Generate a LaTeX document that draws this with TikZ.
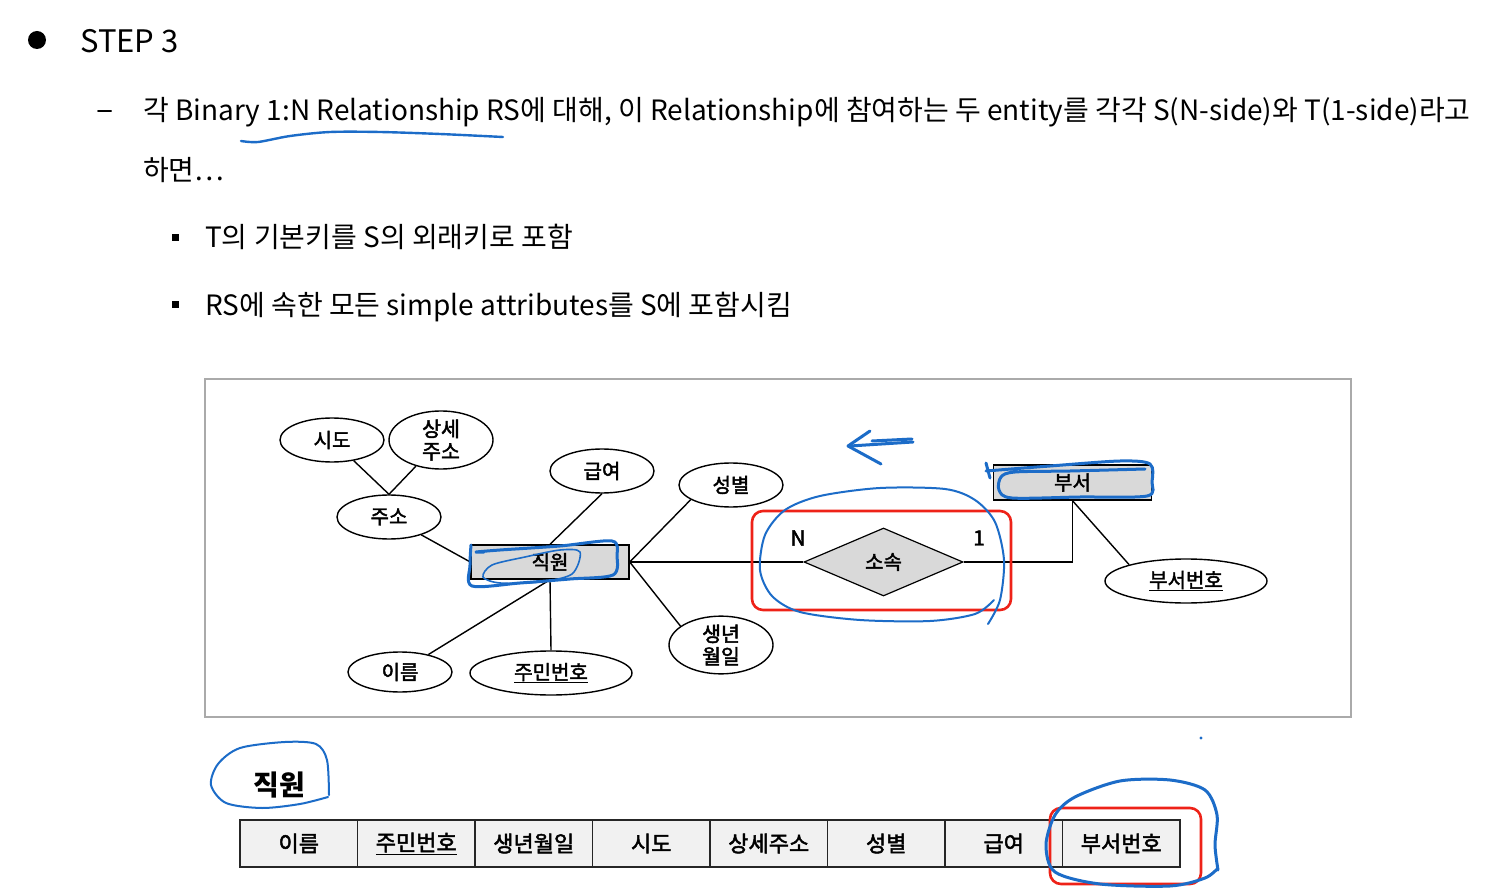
\documentclass[tikz,border=0pt]{standalone}
\usepackage{fontspec}
\setmainfont{Noto Sans CJK KR}
\newfontfamily\erfont{Noto Sans CJK KR}[FakeBold=2.2]
\usetikzlibrary{shapes.geometric}
\definecolor{pen}{RGB}{28,108,200}
\definecolor{redbox}{RGB}{238,34,24}
\definecolor{egray}{RGB}{217,217,217}
\definecolor{cellgray}{RGB}{241,241,241}
\definecolor{framegray}{RGB}{170,170,170}
\tikzset{
  body/.style={anchor=base west, inner sep=0, font=\fontsize{28}{34}\selectfont},
  attr/.style={ellipse, draw, line width=1.4pt, fill=white, minimum width=104, minimum height=44, inner sep=0, font=\erfont\fontsize{20}{23}\selectfont, align=center},
  keyattr/.style={attr, minimum width=162},
  ent/.style={rectangle, draw, line width=1.4pt, fill=egray, minimum width=158, minimum height=34, inner sep=0, font=\erfont\fontsize{20}{23}\selectfont},
  rel/.style={diamond, draw, line width=1.2pt, fill=egray, aspect=2.34, minimum width=159, minimum height=68, inner sep=0, font=\erfont\fontsize{20}{23}\selectfont},
  card/.style={inner sep=0, font=\erfont\fontsize{21}{24}\selectfont},
  erline/.style={line width=1.4pt},
  cell/.style={rectangle, draw=black!85, line width=1.8pt, fill=cellgray, minimum width=117.5, minimum height=47, inner sep=0, font=\erfont\fontsize{22}{26}\selectfont},
  penthick/.style={draw=pen, line width=3pt, line cap=round, line join=round},
  penthin/.style={draw=pen, line width=2pt, line cap=round, line join=round},
  redframe/.style={draw=redbox, line width=2.6pt, rounded corners=11pt},
}
\begin{document}
\begin{tikzpicture}[x=1pt,y=-1pt]
\useasboundingbox (0,0) rectangle (1508,893);
\fill[white] (0,0) rectangle (1508,893);
% ---------- header text ----------
\fill (37,40) circle (9);
\node[body, font=\fontsize{31}{36}\selectfont] (step) at (80,53) {STEP 3};
\node[body, font=\fontsize{32}{34}\selectfont] (dash) at (96,121) {–};
\node[body] (l1) at (143,121) {각 Binary 1:N Relationship RS에 대해, 이 Relationship에 참여하는 두 entity를 각각 S(N-side)와 T(1-side)라고};
\node[body] (l2) at (143,181) {하면…};
\fill (171.5,234.5) rectangle (178.5,241.5);
\node[body] (b1) at (205,248) {T의 기본키를 S의 외래키로 포함};
\fill (171.5,301.5) rectangle (178.5,308.5);
\node[body] (b2) at (205,316) {RS에 속한 모든 simple attributes를 S에 포함시킴};
% ---------- ER frame ----------
\draw[framegray, line width=2pt] (205,379) rectangle (1351,717);
% nodes
\node[attr] (sido) at (332,440) {시도};
\node[attr, font=\erfont\fontsize{20.5}{22.5}\selectfont] (sangse) at (441,440) {상세\\주소};
\node[attr] (juso) at (389,517) {주소};
\node[attr] (geup) at (602,471) {급여};
\node[ent] (jik) at (550,562) {직원};
\node[attr, minimum height=40] (ireum) at (400,672) {이름};
\node[keyattr] (jumin) at (551,673) {\underline{주민번호}};
\node[attr] (seong) at (731,485) {성별};
\node[attr, font=\erfont\fontsize{20.5}{22.5}\selectfont] (saeng) at (721,645) {생년\\월일};
\node[rel] (sosok) at (883.5,562) {소속};
\node[ent, minimum height=35] (buseo) at (1072.5,482.5) {부서};
\node[keyattr] (bbh) at (1186,581) {\underline{부서번호}};
\node[card] (cn) at (798,538) {N};
\node[card] (c1n) at (979,538) {1};
% connectors
\draw[erline] (sido) -- (juso.north);
\draw[erline] (sangse) -- (juso.north);
\draw[erline] (juso) -- (jik.west);
\draw[erline] (geup.south) -- (jik.north);
\draw[erline] (ireum) -- (jik.south);
\draw[erline] (jik.south) -- (jumin.north);
\draw[erline] (jik.east) -- (seong.200);
\draw[erline] (jik.east) -- (saeng.155);
\draw[erline] (jik.east) -- (sosok.west);
\draw[erline] (sosok.east) -| (buseo.south);
\draw[erline] (buseo.south) -- (bbh.164);
% ---------- relation table ----------
\node[inner sep=0, anchor=base, font=\bfseries\fontsize{28}{30}\selectfont] (title) at (279,795) {직원};
\foreach [count=\i] \t in {이름,\underline{주민번호},생년월일,시도,상세주소,성별,급여,부서번호}
  \node[cell] (c\i) at ({240+117.5*(\i-0.5)},843.5) {\t};
% ---------- annotations ----------
\draw[redframe] (752,511) rectangle (1011,610);
\draw[redframe] (1050,808) rectangle (1201,884);
% underline under "1:N Relationship"
\draw[penthin, line width=2.4pt] plot[smooth] coordinates {(241,141) (258,142) (290,136) (330,132) (380,132) (440,134) (503,137)};
% around 직원 entity
\draw[penthick] plot[smooth] coordinates {(484,552) (476,552) (500,550) (560,546) (612,541) (617,556) (613,575) (570,579) (520,583) (472,586) (470,565) (471,545)};
\draw[penthin, line width=1.6pt] plot[smooth cycle] coordinates {(580,552) (572,574) (540,582) (500,583) (483,577) (492,565) (525,557) (560,550)};
% arrow
\draw[penthick] (913,442) -- (850,446);
\draw[penthick] (912,439) -- (872,441);
\draw[penthick] (870,431) -- (848,446) -- (881,464);
% around 부서
\draw[penthick] plot[smooth] coordinates {(986,463) (990,478)};
\draw[penthick] plot[smooth] coordinates {(986,471) (1050,466) (1120,461) (1150,464) (1152,482) (1147,496) (1080,497) (1012,498) (999,490) (1001,477) (1015,472) (1070,471) (1145,469)};
% around 소속
\draw[penthin] plot[smooth] coordinates {(988,624) (1000,600) (1004,560) (995,522) (975,500) (945,489) (880,488) (820,496) (785,510) (765,535) (760,570) (772,596) (800,612) (860,620) (930,621) (975,614) (994,600)};
% around title 직원
\draw[penthin] plot[smooth] coordinates {(329,795) (327,760) (316,744) (285,742) (240,748) (218,764) (211,785) (226,803) (262,808) (300,804) (328,797)};
% around 부서번호 cell
\draw[penthick] plot[smooth] coordinates {(1218,870) (1215,845) (1217,815) (1205,790) (1170,780) (1120,781) (1075,797) (1055,815) (1046,845) (1055,872) (1100,884) (1170,886) (1205,878) (1218,868)};
\fill[pen] (1201,738) circle (1.6);
\end{tikzpicture}
\end{document}
